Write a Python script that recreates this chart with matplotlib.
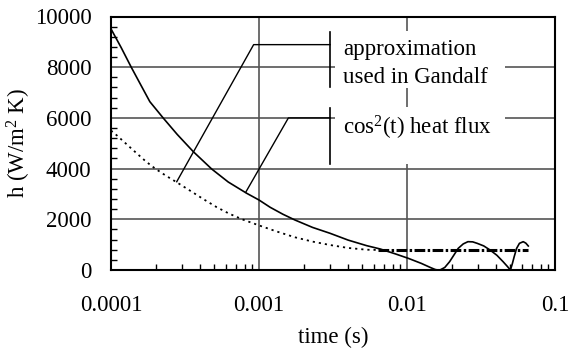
import matplotlib
matplotlib.use("Agg")
import matplotlib.pyplot as plt
from matplotlib.patches import Rectangle
from matplotlib.ticker import FixedLocator, NullFormatter, LogLocator

plt.rcParams['font.family'] = ['Liberation Serif', 'DejaVu Serif']
plt.rcParams['mathtext.fontset'] = 'custom'
plt.rcParams['mathtext.rm'] = 'Liberation Serif'
plt.rcParams['mathtext.it'] = 'Liberation Serif:italic'

# cos^2(t) heat flux (solid)
cos2_t = [1.0e-4, 1.17e-4, 1.37e-4, 1.6e-4, 1.83e-4, 2.25e-4, 2.8e-4, 3.6e-4, 4.79e-4,
          6.2e-4, 8.26e-4, 1.0e-3, 1.19e-3, 1.45e-3, 1.75e-3, 2.3e-3, 3.02e-3,
          4.0e-3, 5.34e-3, 6.58e-3, 8.3e-3, 1.02e-2, 1.25e-2, 1.45e-2, 1.55e-2, 1.61e-2,
          1.67e-2, 1.8e-2, 1.94e-2, 2.08e-2, 2.22e-2, 2.4e-2, 2.58e-2, 2.78e-2, 2.98e-2,
          3.3e-2, 3.64e-2, 4.05e-2, 4.46e-2, 4.75e-2, 5.0e-2, 5.15e-2, 5.3e-2, 5.5e-2,
          5.75e-2, 6.1e-2, 6.35e-2, 6.6e-2]
cos2_h = [9510, 8780, 8000, 7270, 6640, 6000, 5350, 4667, 3984,
          3470, 3026, 2761, 2473, 2200, 1972, 1680, 1448,
          1180, 960, 830, 640, 461, 260, 90, 20, 0,
          0, 100, 327, 600, 856, 1030, 1117, 1110, 1052,
          950, 789, 580, 327, 150, 0, 250, 525, 850,
          1052, 1117, 1060, 947]

# approximation used in Gandalf (dotted)
gand_t = [1.0e-4, 1.1e-4, 1.2e-4, 1.35e-4, 1.5e-4, 1.73e-4, 2.0e-4, 2.35e-4, 2.78e-4,
          3.4e-4, 4.2e-4, 5.17e-4, 6.3e-4, 7.85e-4, 1.0e-3, 1.3e-3, 1.75e-3,
          2.3e-3, 3.02e-3, 4.0e-3, 5.34e-3, 6.4e-3]
gand_h = [5500, 5300, 5100, 4830, 4590, 4270, 3990, 3720, 3460,
          3140, 2800, 2480, 2220, 1980, 1760, 1530, 1290,
          1120, 986, 870, 800, 790]
flat_t = [6.4e-3, 6.6e-2]
flat_h = [790, 790]

xticks = [1e-4, 1e-3, 1e-2, 1e-1]
xticklabels = ['0.0001', '0.001', '0.01', '0.1']
yticks = [0, 2000, 4000, 6000, 8000, 10000]
yticklabels = ['0', '2000', '4000', '6000', '8000', '10000']

FS = 16.5
fig = plt.figure(figsize=(5.7, 3.49), dpi=100)
ax = fig.add_axes([111/570, (349-270)/349, 444/570, 253.5/349])
ax.set_xscale('log')
ax.set_xlim(1e-4, 1e-1)
ax.set_ylim(0, 10000)

ax.set_axisbelow(True)
ax.set_xticks(xticks)
ax.set_xticklabels(xticklabels, fontsize=FS)
ax.set_yticks(yticks)
ax.set_yticklabels(yticklabels, fontsize=FS)
ax.xaxis.set_minor_locator(LogLocator(base=10, subs=range(2, 10)))
ax.xaxis.set_minor_formatter(NullFormatter())
ax.yaxis.set_minor_locator(FixedLocator([v for v in range(0, 10001, 400) if v % 2000 != 0]))
ax.tick_params(which='major', direction='in', length=0, pad=14, top=False, right=False)
ax.tick_params(axis='x', which='major', pad=18)
ax.tick_params(which='minor', direction='in', length=4.5, width=1, top=False, right=False, color='black')
ax.grid(True, which='major', color='#555555', lw=1.2)
for s in ax.spines.values():
    s.set_linewidth(1.5)

ax.plot(cos2_t, cos2_h, color='black', lw=1.2, zorder=3)
ax.plot(gand_t, gand_h, color='black', lw=1.3, linestyle=(0, (1.2, 2.2)), zorder=3)
ax.plot(flat_t, flat_h, color='black', lw=2.2, linestyle=(0, (3.5, 0.8, 0.8, 0.8)), zorder=3)

# text boxes
ax.add_patch(Rectangle((0.5045, 0.718), 0.382, 0.225, transform=ax.transAxes,
                       facecolor='white', edgecolor='none', zorder=1))
ax.add_patch(Rectangle((0.5045, 0.418), 0.382, 0.225, transform=ax.transAxes,
                       facecolor='white', edgecolor='none', zorder=1))
ax.plot([0.4932, 0.4932], [0.722, 0.939], transform=ax.transAxes, color='black', lw=1.2, zorder=4)
ax.plot([0.4932, 0.4932], [0.418, 0.639], transform=ax.transAxes, color='black', lw=1.2, zorder=4)

# leader lines
ax.plot([2.78e-4, 9.2e-4, 3.02e-3], [3483, 8890, 8890], color='black', lw=1.0, zorder=4)
ax.plot([8.13e-4, 1.58e-3, 3.02e-3], [3065, 6000, 6000], color='black', lw=1.0, zorder=4)

ax.text(0.5225, 0.848, 'approximation', transform=ax.transAxes, fontsize=FS, va='baseline', zorder=5)
ax.text(0.5225, 0.738, 'used in Gandalf', transform=ax.transAxes, fontsize=FS, va='baseline', zorder=5)
ax.text(0.5225, 0.5325, r'cos$^2$(t) heat flux', transform=ax.transAxes, fontsize=FS, va='baseline', zorder=5)

ax.set_xlabel('time (s)', fontsize=FS)
ax.xaxis.set_label_coords(0.5, -0.225)
ax.set_ylabel(r'h (W/m$^2$ K)', fontsize=FS)
ax.yaxis.set_label_coords(-0.176, 0.5)

fig.savefig('out.png', dpi=100)
